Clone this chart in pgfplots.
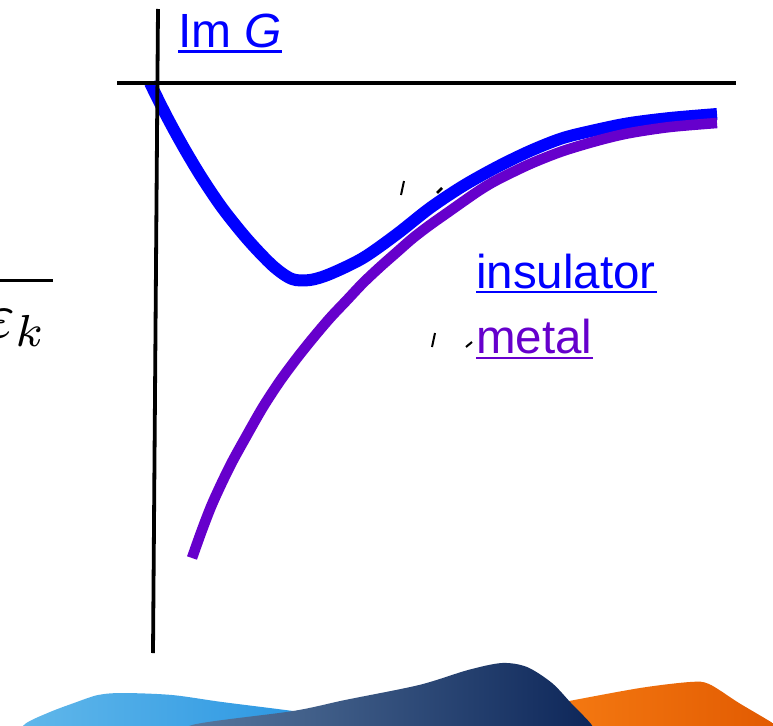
\documentclass[border=0pt]{standalone}
\usepackage{pgfplots}
\pgfplotsset{compat=1.18}
\usepackage{fontspec}
\setmainfont{Liberation Sans}
\definecolor{myblue}{HTML}{0000FF}
\definecolor{mypurple}{HTML}{6600CC}
\definecolor{lbA}{HTML}{62B8EA}
\definecolor{lbB}{HTML}{1A8CE0}
\definecolor{dbA}{HTML}{5A7AA0}
\definecolor{dbB}{HTML}{0C2558}
\definecolor{orA}{HTML}{F57A12}
\definecolor{orB}{HTML}{E05800}
\begin{document}
\begin{tikzpicture}
\path[use as bounding box] (0,0) rectangle (773pt,725pt);
\clip (0,0) rectangle (773pt,725pt);
\begin{axis}[at={(0,0)}, anchor=south west, scale only axis,
  width=773pt, height=725pt, xmin=0, xmax=773, ymin=0, ymax=725,
  y dir=reverse, axis lines=none, ticks=none, clip=false]
% bottom hills
\addplot[draw=none, left color=lbA, right color=lbB, smooth] coordinates {
 (15,740)(25,724)(50,712)(74,703)(98,695)(123,693)(172,695)(222,702)(293,711)(340,718)(390,726)(390,740)};
\addplot[draw=none, left color=orA, right color=orB, smooth] coordinates {
 (555,740)(560,703)(569,701)(640,688)(690,682)(709,684)(739,703)(771,722)(790,735)(790,740)};
\addplot[draw=none, left color=dbA, right color=dbB, smooth] coordinates {
 (188,740)(192,725)(293,711)(345,700)(419,685)(468,670)(502,663)(527,667)(552,683)(571,703)(591,724)(600,740)};
% curves
\addplot[myblue, line width=12pt, smooth] coordinates {
 (150,83)(167,117)(184,148)(202,178)(223,209)(248,240)(273,266)(292,279)(310,280)(330,274)(363,258)(397,234)(430,208)(463,186)(497,167)(530,151)(563,138)(600,129)(630,123)(670,118)(717,114)};
\addplot[mypurple, line width=10.5pt, smooth] coordinates {
 (192,558)(202,530)(213,502)(230,466)(247,435)(263,407)(280,381)(297,358)(313,338)(330,318)(347,300)(363,283)(380,267)(397,252)(413,238)(430,225)(447,213)(464,201)(480,190)(497,180)(530,164)(563,151)(600,140)(630,133)(670,127)(717,123)};
% axes
\addplot[black, line width=3.8pt] coordinates {(158,9)(153,653)};
\addplot[black, line width=3.8pt] coordinates {(117,83)(736,83)};
% fraction bar
\addplot[black, line width=3pt] coordinates {(-5,280)(53,280)};
% small marks
\addplot[black, line width=2pt] coordinates {(401,195)(404,181)};
\addplot[black, line width=2.5pt] coordinates {(437,193)(442,188)};
\addplot[black, line width=2pt] coordinates {(432,347)(435,333)};
\addplot[black, line width=2pt] coordinates {(466,347)(472,342)};
% labels
\node[anchor=base east, inner sep=0pt, scale=6.4] at (axis cs:48,337) {$\varepsilon_k$};
\node[anchor=base west, inner sep=0pt, text=myblue, font=\fontsize{48}{56}\selectfont] at (axis cs:178,48) {Im \textit{G}};
\addplot[myblue, line width=2.5pt] coordinates {(178,51.5)(282,51.5)};
\node[anchor=base west, inner sep=0pt, text=myblue, font=\fontsize{47.5}{56}\selectfont] at (axis cs:476,288) {insulator};
\addplot[myblue, line width=2.5pt] coordinates {(476,292)(657,292)};
\node[anchor=base west, inner sep=0pt, text=mypurple, font=\fontsize{47.5}{56}\selectfont] at (axis cs:476,353) {metal};
\addplot[mypurple, line width=2.5pt] coordinates {(476,358)(593,358)};
\end{axis}
\end{tikzpicture}
\end{document}
